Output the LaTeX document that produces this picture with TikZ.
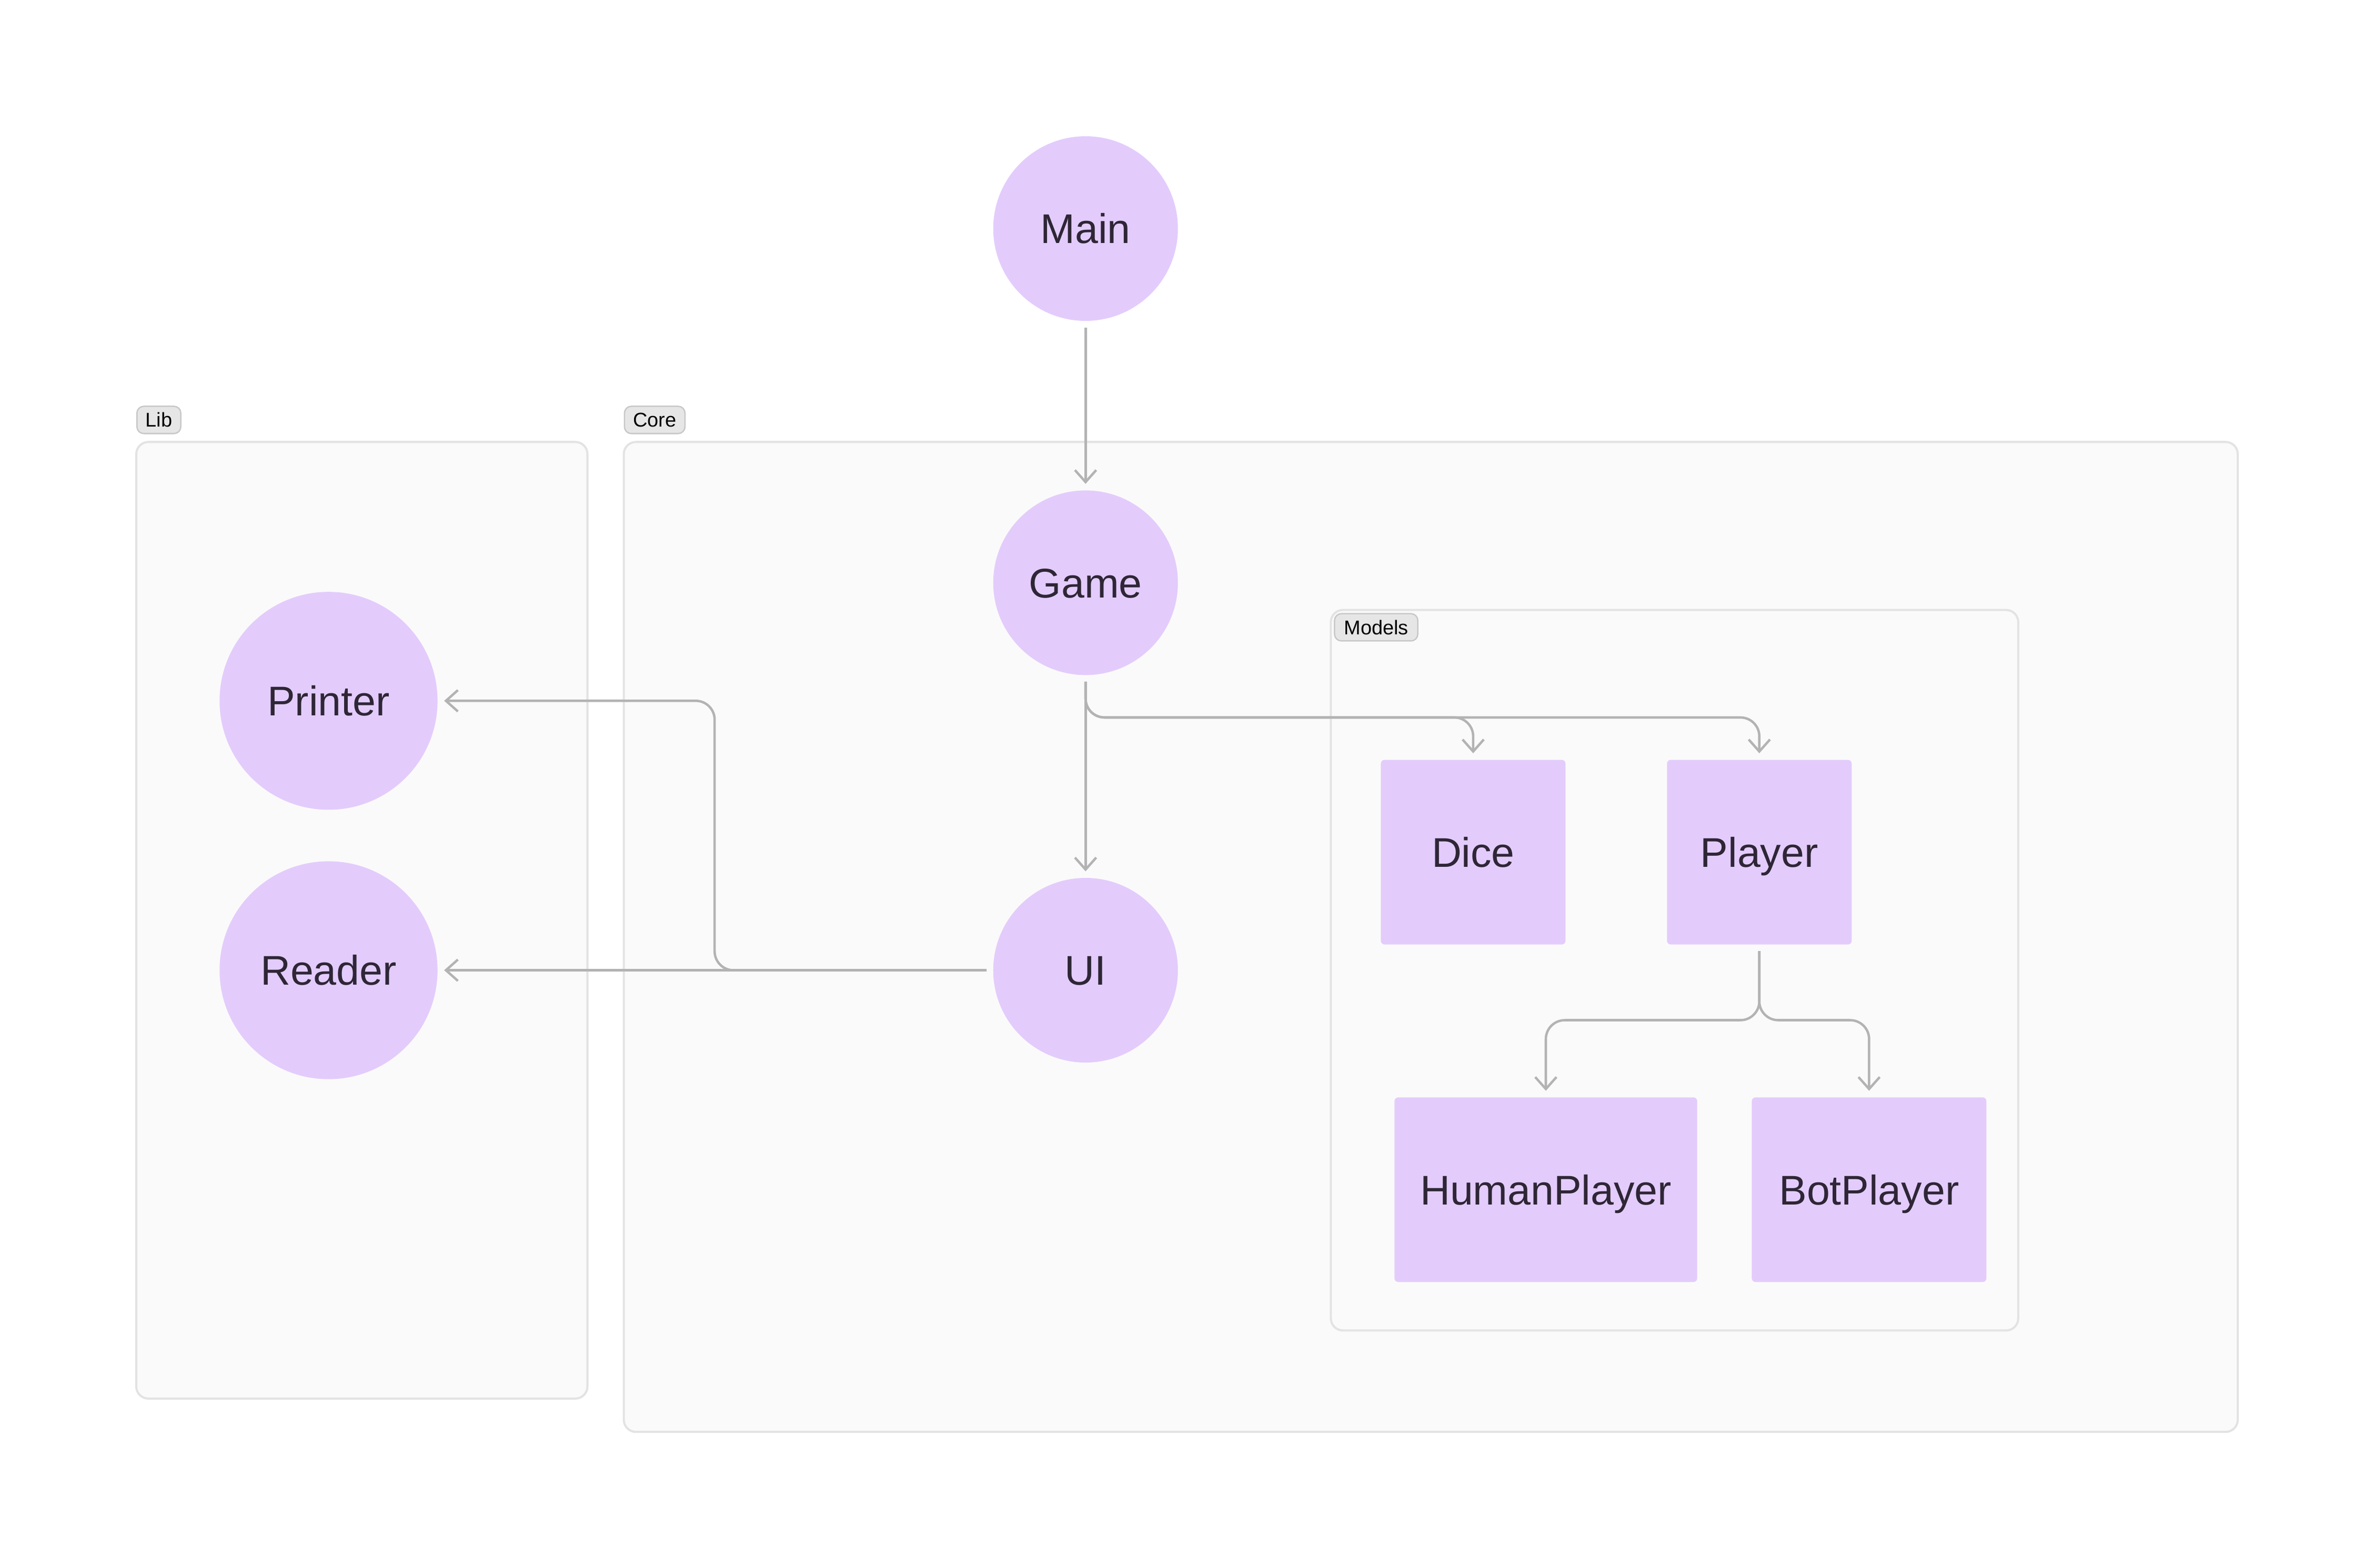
\documentclass[tikz,border=0pt]{standalone}
\usepackage{fontspec}
\setmainfont{Liberation Sans}
\usepackage{xcolor}
\usepackage{tikz}
\usetikzlibrary{calc, positioning, arrows.meta, shapes}
\definecolor{nodefill}{HTML}{E3CCFC}
\definecolor{nodetext}{HTML}{2E2636}
\definecolor{clusterfill}{HTML}{FAFAFA}
\definecolor{clusterline}{HTML}{E3E3E3}
\definecolor{tagfill}{HTML}{E6E6E6}
\definecolor{tagline}{HTML}{C8C8C8}
\definecolor{edgeline}{HTML}{B3B3B3}
\tikzset{
    unit/.style ={circle, fill=nodefill, text=nodetext, minimum size=2.44cm, inner sep=0pt, text height=14pt, text depth=2.8pt, font=\fontsize{15.6}{18}\selectfont}, % round modules
    model/.style ={rectangle, rounded corners=0.05cm, fill=nodefill, text=nodetext, minimum height=2.44cm, inner sep=0pt, text height=14pt, text depth=2.8pt, font=\fontsize{15.6}{18}\selectfont}, % class boxes
    cluster/.style = {draw=clusterline, fill=clusterfill, line width=0.8pt, rounded corners=0.16cm},
    tag/.style = {draw=tagline, fill=tagfill, line width=0.5pt, rounded corners=0.09cm, inner sep=0pt, minimum height=0.36cm, font=\fontsize{7.5}{9}\selectfont, anchor=north west},
    dep/.style = {draw=edgeline, line width=0.9pt, rounded corners=0.25cm, -{Straight Barb[length=4.5pt,width=8pt]}, shorten <=0.08cm, shorten >=0.08cm}
}
\begin{document}
\begin{tikzpicture}[x=0.02cm, y=-0.02cm]
    \useasboundingbox (0,0) rectangle (1568,1035.6);
    % groups
    \draw[cluster] (90,292) rectangle (388,924);
    \draw[cluster] (412,292) rectangle (1478,946);
    \draw[cluster] (879,403) rectangle (1333,879);
    \node[tag, minimum width=0.58cm] (lib) at (90,268) {Lib};
    \node[tag, minimum width=0.80cm] (core) at (412,268) {Core};
    \node[tag, minimum width=1.10cm] (models) at (881,405) {Models};
    % modules
    \node[unit] (Main) at (717,151) {Main};
    \node[unit] (Game) at (717,385) {Game};
    \node[unit] (UI) at (717,641) {UI};
    \node[unit, minimum size=2.88cm] (Printer) at (217,463) {Printer};
    \node[unit, minimum size=2.88cm] (Reader) at (217,641) {Reader};
    \node[model, minimum width=2.44cm] (Dice) at (973,563) {Dice};
    \node[model, minimum width=2.44cm] (Player) at (1162,563) {Player};
    \node[model, minimum width=4.00cm] (HumanPlayer) at (1021,786) {HumanPlayer};
    \node[model, minimum width=3.10cm] (BotPlayer) at (1234.5,786) {BotPlayer};
    \coordinate (gsplit) at (717,474);
    \coordinate (psplit) at (1162,674);
    \coordinate (ubend) at (472,641);
    % dependencies
    \draw[dep] (Main) -- (Game);
    \draw[dep] (Game) -- (UI);
    \draw[dep] (Game.south) -- (gsplit) -| (Dice.north);
    \draw[dep] (Game.south) -- (gsplit) -| (Player.north);
    \draw[dep] (UI.west) -- (ubend) |- (Printer.east);
    \draw[dep] (UI) -- (Reader);
    \draw[dep] (Player.south) -- (psplit) -| (HumanPlayer.north);
    \draw[dep] (Player.south) -- (psplit) -| (BotPlayer.north);
\end{tikzpicture}
\end{document}
